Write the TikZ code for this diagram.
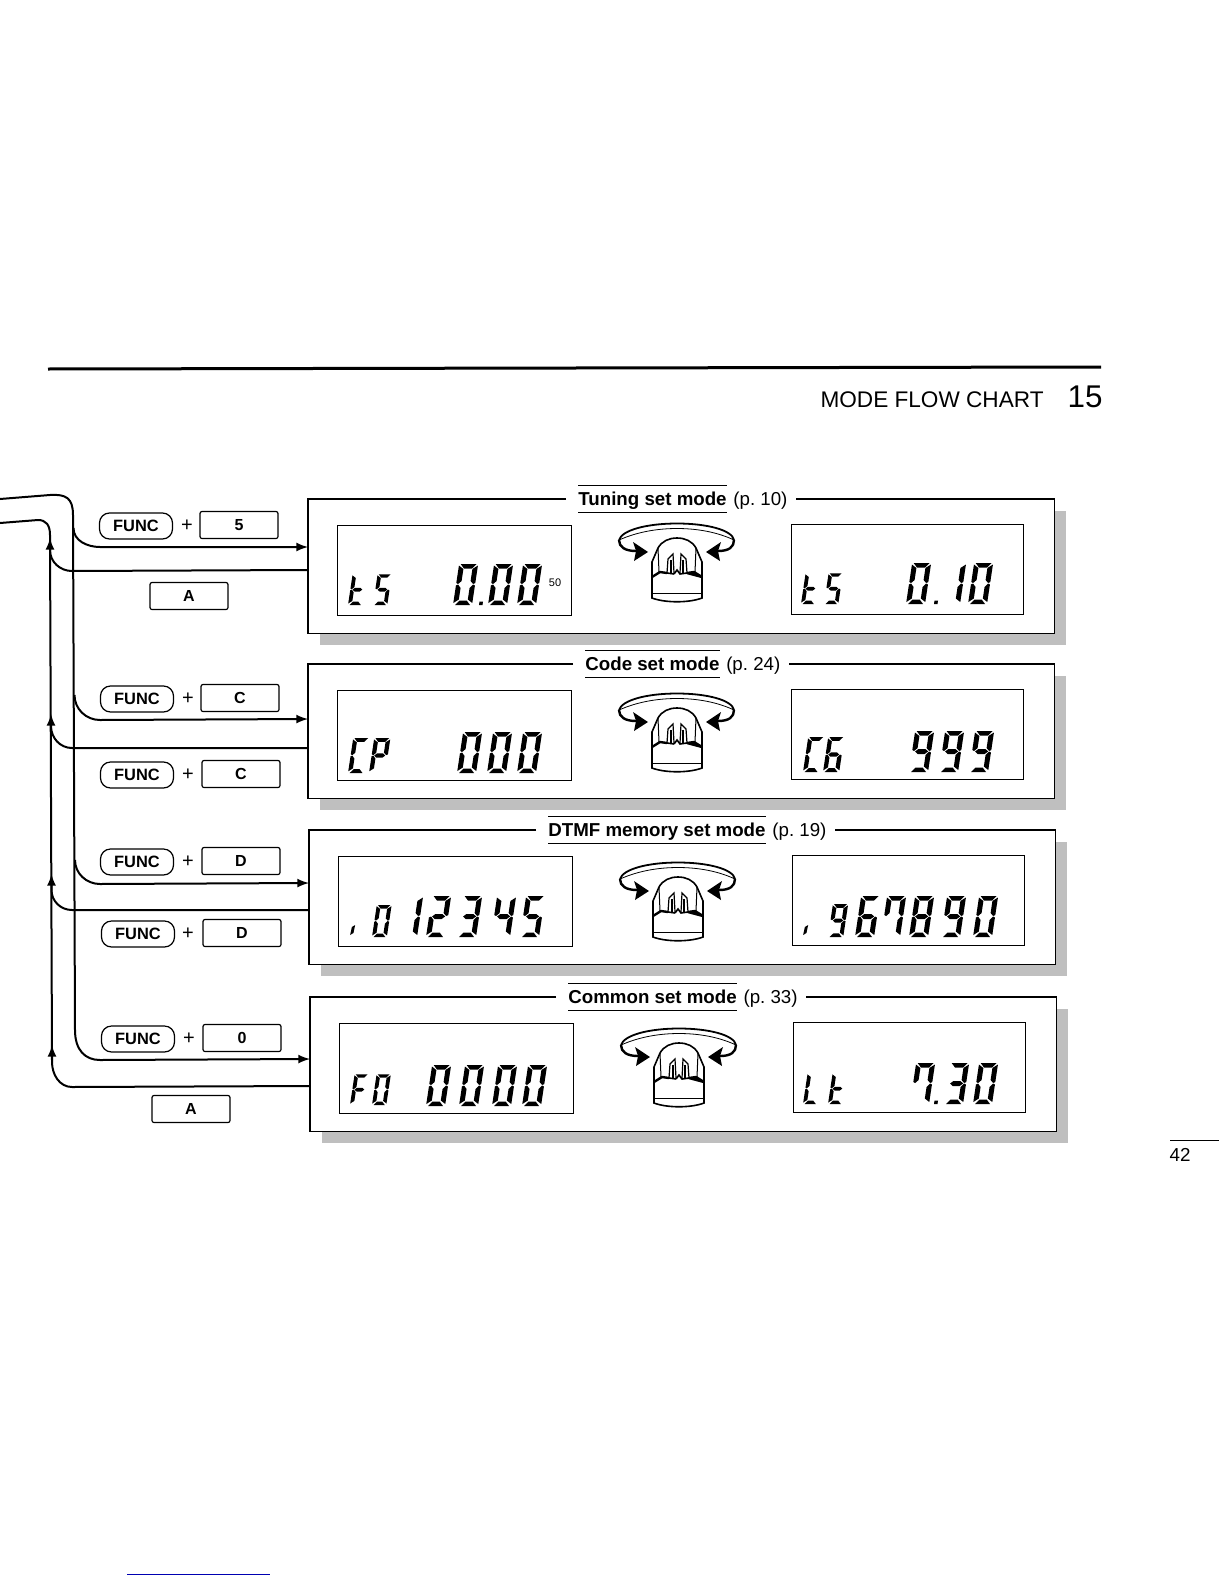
\documentclass[tikz,border=0pt]{standalone}
\usepackage{fontspec}
\setmainfont{Liberation Sans}
\tikzset{
  panelline/.style={line width=0.55pt},
  flowline/.style={line width=1pt,>=latex},
  panelbox/.style={fill=white,minimum width=373pt,minimum height=67pt,inner sep=0pt,anchor=north west},
  shadowbox/.style={fill=black!25,minimum width=373pt,minimum height=67pt,inner sep=0pt,anchor=north west},
  lcdbox/.style={draw,fill=white,line width=0.6pt,minimum width=117pt,minimum height=45pt,inner sep=0pt,anchor=north west},
  modetitle/.style={font=\fontsize{9.35}{11}\selectfont\bfseries,text height=9pt,text depth=3pt,inner xsep=0pt,inner ysep=0.5pt,anchor=west},
  modepage/.style={font=\fontsize{9.35}{11}\selectfont,text height=9pt,text depth=3pt,inner xsep=3pt,inner ysep=0.5pt,anchor=west},
  funckey/.style={draw,line width=0.6pt,rounded corners=5pt,minimum width=36.5pt,minimum height=13pt,inner sep=0pt,font=\fontsize{8.2}{10}\selectfont\bfseries},
  squarekey/.style={draw,line width=0.6pt,rounded corners=1pt,minimum width=39pt,minimum height=13.5pt,inner sep=0pt,font=\fontsize{8}{10}\selectfont\bfseries},
  pluskey/.style={inner sep=0pt,font=\fontsize{10}{12}\selectfont},
  pics/knob/.style={code={
    % ring
    \draw[line width=0.9pt,fill=white] (-58,30) .. controls (-55,20) and (-30,13.5) .. (0,13.5) .. controls (30,13.5) and (55,20) .. (57,30);
    \draw[line width=0.4pt] (-58,30) .. controls (-40,22) and (-20,18.5) .. (0,18.5) .. controls (20,18.5) and (40,22) .. (57,30);
    % arrows
    \draw[line width=1.2pt] (-58,30) .. controls (-58,37) and (-52,41) .. (-41,41);
    \draw[line width=1.2pt] (57,30) .. controls (57,37) and (52,41) .. (41,41);
    \fill (-29,42) -- (-44,32) -- (-41,41) -- (-43,51) -- cycle;
    \fill (29,42) -- (44,32) -- (41,41) -- (43,51) -- cycle;
    % body
    \draw[line width=0.8pt,fill=white] (-25,88) -- (-25,52) -- (-19,38) .. controls (-15,31) and (-8,28) .. (0,28) .. controls (8,28) and (15,31) .. (19,38) -- (25,52) -- (25,88) .. controls (12,93) and (-12,93) .. (-25,88) -- cycle;
    \draw[line width=0.5pt] (-19,38) -- (-18,62) (19,38) -- (18,62);
    \draw[line width=1.2pt,line join=bevel] (-25,67) -- (-17,62) -- (-10,63) (10,63) -- (17,62) -- (25,67) -- cycle;
    \draw[line width=0.8pt] (-3,64) -- (0,60) -- (3,64) -- (10,63);
    \draw[line width=0.8pt] (-3,64) -- (-10,63);
    \draw[line width=0.5pt] (-25,83) -- (25,83);
    % fins
    \draw[line width=0.6pt] (-10,63) -- (-9,49) -- (-4,44) -- (-3,63);
    \draw[line width=0.6pt] (10,63) -- (9,49) -- (4,44) -- (3,63);
    \draw[line width=0.6pt] (-6,63) -- (-6,50) (6,63) -- (6,50);
  }}
}
% lcd segments, origin at the lower left of the digit
\newcommand{\sega}{\fill (1.5,-41) -- (17.5,-41) -- (13.5,-36.5) -- (5.5,-36.5) -- cycle;}
\newcommand{\segb}{\fill (19,-39.5) -- (19,-22) -- (17,-21) -- (14,-24) -- (14,-36) -- cycle;}
\newcommand{\segc}{\fill (19,-19.5) -- (19,-2) -- (14,-5.5) -- (14,-17) -- (17,-20.5) -- cycle;}
\newcommand{\segd}{\fill (2,0) -- (17,0) -- (13,-4.5) -- (6,-4.5) -- cycle;}
\newcommand{\sege}{\fill (0,-2) -- (0,-19.5) -- (2,-20.5) -- (5,-17) -- (5,-5.5) -- cycle;}
\newcommand{\segf}{\fill (0,-39.5) -- (0,-22) -- (2,-21) -- (5,-24) -- (5,-36) -- cycle;}
\newcommand{\segg}{\fill (3,-20.5) -- (6,-23) -- (13,-23) -- (16,-20.5) -- (13,-18) -- (6,-18) -- cycle;}
\newcommand{\segk}{\fill (0,-1) -- (3,-3) -- (3.5,-11) -- (0.5,-9) -- cycle;}
\newcommand{\segp}{\fill (0,0) rectangle (3.5,-3.5);}
\expandafter\def\csname lcdc0\endcsname{a,b,c,d,e,f}
\expandafter\def\csname lcdc1\endcsname{b,c}
\expandafter\def\csname lcdc2\endcsname{a,b,d,e,g}
\expandafter\def\csname lcdc3\endcsname{a,b,c,d,g}
\expandafter\def\csname lcdc4\endcsname{b,c,f,g}
\expandafter\def\csname lcdc5\endcsname{a,c,d,f,g}
\expandafter\def\csname lcdc6\endcsname{a,c,d,e,f,g}
\expandafter\def\csname lcdc7\endcsname{a,b,c,f}
\expandafter\def\csname lcdc8\endcsname{a,b,c,d,e,f,g}
\expandafter\def\csname lcdc9\endcsname{a,b,c,d,f,g}
\expandafter\def\csname lcdct\endcsname{d,e,f,g}
\expandafter\def\csname lcdcS\endcsname{a,c,d,f,g}
\expandafter\def\csname lcdcC\endcsname{a,d,e,f}
\expandafter\def\csname lcdcP\endcsname{a,b,e,f,g}
\expandafter\def\csname lcdcF\endcsname{a,e,f,g}
\expandafter\def\csname lcdcL\endcsname{d,e,f}
\expandafter\def\csname lcdck\endcsname{k}
\expandafter\def\csname lcdcp\endcsname{p}
\newcommand{\lcdchar}[4]{%
  \begin{scope}[shift={(#1,#2)},scale=#3,xslant=0.15]
    \expandafter\let\expandafter\seglist\csname lcdc#4\endcsname
    \foreach \s in \seglist {\csname seg\s\endcsname}
  \end{scope}}
\begin{document}
\begin{tikzpicture}[x=0.5pt,y=-0.5pt]
  \useasboundingbox (0,0) rectangle (1224,1584);
  % page head
  \draw[line width=1.5pt] (48,369) -- (1101,367);
  \node[anchor=east,inner sep=0pt,font=\fontsize{11.3}{14}\selectfont] (headtext) at (1044,400) {MODE FLOW CHART};
  \node[anchor=east,inner sep=0pt,font=\fontsize{15.7}{18}\selectfont] (headnum) at (1103,396.5) {15};
  % panels
  \foreach \n/\px/\py/\tx/\ky/\mode/\pg in {
    p1/308/499/578/510/Tuning set mode/10,
    p2/308/664/585/680/Code set mode/24,
    p3/309/830/548/849/DTMF memory set mode/19,
    p4/310/997/568/1015/Common set mode/33} {
    \node[shadowbox] (\n shadow) at (\px+12,\py+12) {};
    \node[panelbox] (\n) at (\px,\py) {};
    \node[modetitle] (\n title) at (\tx,\py) {\mode};
    \node[modepage] (\n page) at (\n title.east) {(p.~\pg)};
    \coordinate (\n gl) at ([xshift=-6pt]\n title.west);
    \coordinate (\n gr) at ([xshift=1pt]\n page.east);
    \draw[panelline] (\n gl) -- (\n.north west) -- (\n.south west) -- (\n.south east) -- (\n.north east) -- (\n gr);
    \draw[line width=0.5pt] (\n title.north west) -- (\n title.north east);
    \draw[line width=0.5pt] (\n title.south west) -- (\n title.south east);
    \node[lcdbox] (\n left) at (\px+29,\py+26) {};
    \node[lcdbox,minimum width=116pt] (\n right) at (\px+483,\py+25) {};
    \pic at (\px+369,\ky) {knob};
  }
  % lcd characters
  \foreach \cx/\cy/\cs/\ch in {
    348/605/.75/t,373/605/.75/S,453/605/1/0,479/605/1/p,488/605/1/0,517/605/1/0,
    801/604/.75/t,824/604/.75/S,906/604/1/0,934/604/1/p,941/604/1/1,968/604/1/0,
    348/773/.85/C,369/773/.85/P,457/773/1/0,487/773/1/0,517/773/1/0,
    803/772/.85/C,823/772/.85/6,909/772/1/9,939/772/1/9,969/772/1/9,
    350/936/1/k,372/937/.78/0,398/937/1/1,426/937/1/2,457/937/1/3,491/937/1/4,520/937/1/5,
    803/936/1/k,828/937/.8/9,855/937/1/6,881/937/1/7,909/937/1/8,941/937/1/9,973/937/1/0,
    350/1105/.75/F,372/1105/.75/0,426/1106/1/0,459/1106/1/0,492/1106/1/0,522/1106/1/0,
    803/1104/.75/L,828/1104/.75/t,910/1104/1/7,934/1104/1/p,944/1104/1/3,973/1104/1/0} {
    \lcdchar{\cx}{\cy}{\cs}{\ch}
  }
  \node[inner sep=0pt,font=\fontsize{5.5}{6}\selectfont] (unit) at (555,583) {50};
  % connectors
  \coordinate (fwdstart) at (0,499);
  \coordinate (backend) at (0,523);
  \coordinate (p1in) at (p1.west |- 0,547);
  \coordinate (p1out) at (p1.west |- 0,570);
  \coordinate (p2in) at (p2.west |- 0,719);
  \coordinate (p2out) at (p2.west |- 0,748);
  \coordinate (p3in) at (p3.west |- 0,883);
  \coordinate (p3out) at (p3.west |- 0,910);
  \coordinate (p4in) at (p4.west |- 0,1059);
  \coordinate (p4out) at (p4.west |- 0,1086);
  \draw[flowline,->] (fwdstart) -- (50,495) .. controls (66,494) and (73,498) .. (73,515) -- (75,1030) .. controls (75,1050) and (85,1060) .. (100,1060) -- (p4in);
  \draw[flowline,->] (73.5,528) to[out=-90,in=180] (100,547) -- (p1in);
  \draw[flowline,->] (74.5,695) to[out=-90,in=180] (100,720) -- (p2in);
  \draw[flowline,->] (75,860) to[out=-90,in=180] (100,884) -- (p3in);
  \draw[flowline] (backend) -- (38,520) .. controls (46,520) and (50,525) .. (50,535) -- (52,1060);
  \draw[flowline,->] (p1out) -- (72,571) to[out=180,in=-90] (50,550) -- (50,538);
  \draw[flowline,->] (p2out) -- (72,748) to[out=180,in=-90] (51,726) -- (51,714);
  \draw[flowline,->] (p3out) -- (72,910) to[out=180,in=-90] (51.5,890) -- (51.5,874);
  \draw[flowline,->] (p4out) -- (72,1087) to[out=180,in=-90] (52,1062) -- (52,1045);
  % keys
  \node[funckey] (k1a) at (136,526) {FUNC};
  \node[pluskey] (k1p) at (187,526) {+};
  \node[squarekey] (k1b) at (239,525) {5};
  \node[squarekey] (k2) at (189,596) {A};
  \node[funckey] (k3a) at (137,699) {FUNC};
  \node[pluskey] (k3p) at (188,699) {+};
  \node[squarekey] (k3b) at (240,698) {C};
  \node[funckey] (k4a) at (137,775) {FUNC};
  \node[pluskey] (k4p) at (188,775) {+};
  \node[squarekey] (k4b) at (241,774) {C};
  \node[funckey] (k5a) at (137,862) {FUNC};
  \node[pluskey] (k5p) at (188,862) {+};
  \node[squarekey] (k5b) at (241,861) {D};
  \node[funckey] (k6a) at (138,934) {FUNC};
  \node[pluskey] (k6p) at (188,934) {+};
  \node[squarekey] (k6b) at (242,933) {D};
  \node[funckey] (k7a) at (138,1039) {FUNC};
  \node[pluskey] (k7p) at (189,1039) {+};
  \node[squarekey] (k7b) at (242,1038) {0};
  \node[squarekey] (k8) at (191,1109) {A};
  % page number, bottom rule
  \draw[line width=0.5pt] (1170,1140) -- (1219,1140);
  \node[inner sep=0pt,font=\fontsize{9.4}{11}\selectfont] (pageno) at (1180,1155) {42};
  \draw[line width=0.5pt,blue!70!black] (127,1574) -- (270,1574);
\end{tikzpicture}
\end{document}
